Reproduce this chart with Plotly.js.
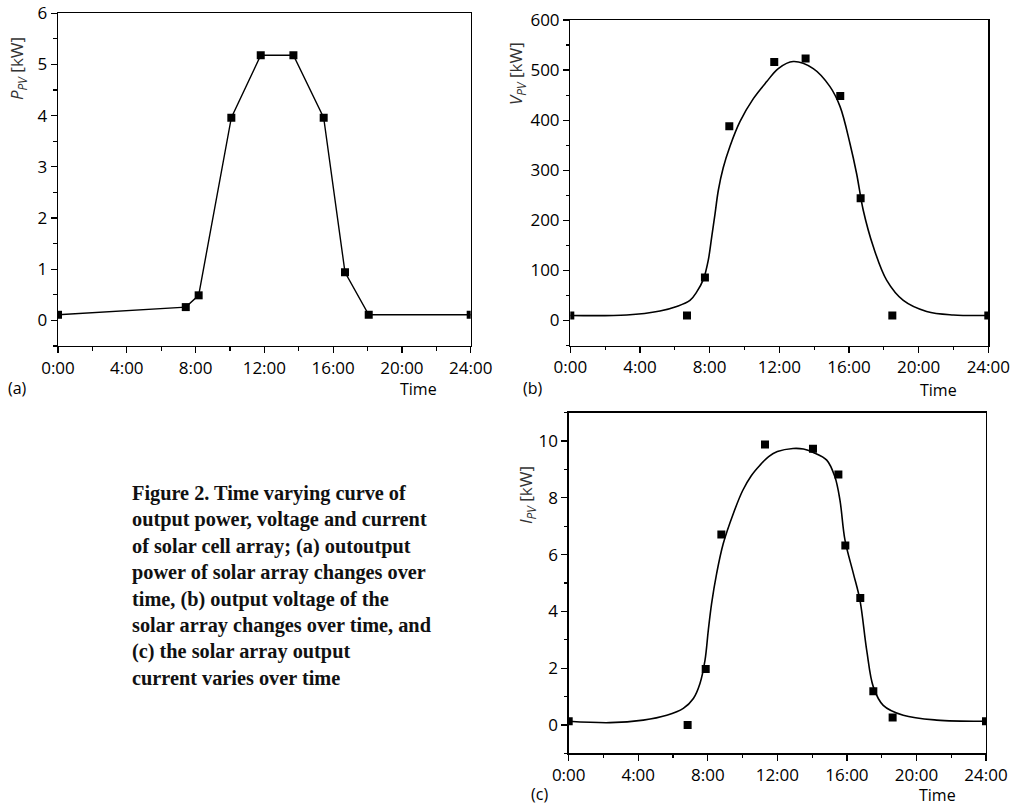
<!DOCTYPE html>
<html>
<head>
<meta charset="utf-8">
<script src="https://cdn.plot.ly/plotly-3.0.1.min.js"></script>
<style>html,body{margin:0;padding:0;background:#fff;}#chart{width:1019px;height:805px;}</style>
</head>
<body>
<div id="chart"></div>
<script>
// ---- data (hours of day) ----
const timeTickVals = [0, 4, 8, 12, 16, 20, 24];
const timeTickText = ["0:00", "4:00", "8:00", "12:00", "16:00", "20:00", "24:00"];

// (a) output power
const powerHours = [0, 7.43, 8.18, 10.08, 11.79, 13.69, 15.45, 16.69, 18.07, 24];
const powerKW    = [0.11, 0.26, 0.49, 3.96, 5.18, 5.18, 3.96, 0.94, 0.11, 0.11];

// (b) output voltage: measured points
const voltHours = [0, 6.70, 7.73, 9.13, 11.71, 13.51, 15.50, 16.67, 18.49, 24];
const voltVals  = [10, 10, 86, 388, 516, 523, 448, 244, 10, 10];
// (b) fitted curve
const voltFitHours = [0, 3.24, 5.15, 6.11, 6.87, 7.26, 7.64, 7.92, 8.12, 8.31, 8.50, 8.78, 9.17, 9.74, 10.51, 11.28, 11.94, 12.80, 13.95, 14.91, 15.49, 16.06, 16.44, 16.82, 17.40, 18.17, 19.12, 20.46, 21.99, 24];
const voltFitVals  = [10, 11, 19, 28, 40, 57, 82, 120, 167, 213, 260, 305, 348, 397, 443, 477, 503, 517, 503, 467, 427, 353, 293, 220, 147, 80, 40, 18, 11, 10];

// (c) output current: measured points
const currHours = [0, 6.84, 7.88, 8.78, 11.29, 14.05, 15.51, 15.91, 16.77, 17.52, 18.63, 24];
const currVals  = [0.13, 0.0, 1.97, 6.71, 9.88, 9.73, 8.82, 6.32, 4.47, 1.19, 0.26, 0.13];
// (c) fitted curve
const currFitHours = [0, 2.37, 4.29, 5.64, 6.59, 7.17, 7.55, 7.84, 8.03, 8.22, 8.51, 8.89, 9.47, 10.0, 10.5, 11.0, 11.5, 12.0, 12.9, 13.5, 14.07, 14.84, 15.31, 15.60, 15.89, 16.37, 16.75, 17.14, 17.52, 18.09, 19.24, 21.16, 24];
const currFitVals  = [0.13, 0.08, 0.17, 0.34, 0.58, 0.93, 1.46, 2.28, 3.34, 4.28, 5.34, 6.39, 7.45, 8.25, 8.78, 9.15, 9.45, 9.63, 9.74, 9.72, 9.60, 9.33, 8.74, 7.92, 6.51, 5.34, 4.40, 2.63, 1.34, 0.69, 0.34, 0.17, 0.13];

// ---- styling ----
const W = 1019, H = 805;
const px = x => x / W;
const py = y => (H - y) / H;
const tickFont = {family: "Open Sans, sans-serif", size: 17, color: "#000"};
const marker = {symbol: "square", size: 8, color: "#000"};

function xAxis(domain, anchor) {
  return {
    domain: domain, anchor: anchor, range: [0, 24],
    tickmode: "array", tickvals: timeTickVals, ticktext: timeTickText,
    ticks: "outside", ticklen: 6, tickwidth: 1.2, tickcolor: "#000",
    minor: {tickmode: "linear", tick0: 0, dtick: 2, ticks: "outside", ticklen: 3.5, tickwidth: 1.2, tickcolor: "#000", showgrid: false},
    showline: true, mirror: true, linecolor: "#000", linewidth: 1.3,
    showgrid: false, zeroline: false, tickfont: tickFont, fixedrange: true
  };
}
function yAxis(domain, anchor, range, dtick, minor) {
  return {
    domain: domain, anchor: anchor, range: range,
    tickmode: "linear", tick0: 0, dtick: dtick,
    ticks: "outside", ticklen: 6, tickwidth: 1.2, tickcolor: "#000",
    minor: {tickmode: "linear", tick0: 0, dtick: minor, ticks: "outside", ticklen: 3.5, tickwidth: 1.2, tickcolor: "#000", showgrid: false},
    showline: true, mirror: true, linecolor: "#000", linewidth: 1.3,
    showgrid: false, zeroline: false, tickfont: tickFont, fixedrange: true
  };
}

const traces = [
  {x: powerHours, y: powerKW, xaxis: "x", yaxis: "y", mode: "lines+markers",
   line: {color: "#000", width: 1.4}, marker: marker},
  {x: voltFitHours, y: voltFitVals, xaxis: "x2", yaxis: "y2", mode: "lines",
   line: {color: "#000", width: 1.6, shape: "spline", smoothing: 1.0}},
  {x: voltHours, y: voltVals, xaxis: "x2", yaxis: "y2", mode: "markers", marker: marker},
  {x: currFitHours, y: currFitVals, xaxis: "x3", yaxis: "y3", mode: "lines",
   line: {color: "#000", width: 1.6, shape: "spline", smoothing: 1.0}},
  {x: currHours, y: currVals, xaxis: "x3", yaxis: "y3", mode: "markers", marker: marker}
];

const labFont = {family: "Open Sans, sans-serif", size: 16, color: "#000"};
const yTitleFont = {family: "Open Sans, sans-serif", size: 17, color: "#333"};
function ann(x, y, text, font, extra) {
  return Object.assign({xref: "paper", yref: "paper", x: px(x), y: py(y), text: text,
    showarrow: false, font: font, xanchor: "center", yanchor: "middle"}, extra || {});
}

const caption = "Figure 2. Time varying curve of<br>output power, voltage and current<br>of solar cell array; (a) outoutput<br>power of solar array changes over<br>time, (b) output voltage of the<br>solar array changes over time, and<br>(c) the solar array output<br>current varies over time";

const layout = {
  width: W, height: H, showlegend: false,
  margin: {l: 0, r: 0, t: 0, b: 0},
  paper_bgcolor: "#fff", plot_bgcolor: "#fff",
  xaxis: xAxis([px(58), px(470.7)], "y"),
  yaxis: yAxis([py(346), py(13.3)], "x", [-0.5, 6], 1, 0.5),
  xaxis2: xAxis([px(570.3), px(988.3)], "y2"),
  yaxis2: yAxis([py(345.5), py(20)], "x2", [-50, 600], 100, 50),
  xaxis3: xAxis([px(568.7), px(986)], "y3"),
  yaxis3: yAxis([py(753.3), py(412.7)], "x3", [-1, 11], 2, 1),
  annotations: [
    ann(17, 69, "<i>P</i><sub><i>PV</i></sub> [kW]", yTitleFont, {textangle: -90}),
    ann(516, 74, "<i>V</i><sub><i>PV</i></sub> [kW]", yTitleFont, {textangle: -90}),
    ann(527, 495, "<i>I</i><sub><i>PV</i></sub> [kW]", yTitleFont, {textangle: -90}),
    ann(418, 389, "Time", labFont),
    ann(938, 390, "Time", labFont),
    ann(937, 795, "Time", labFont),
    ann(17, 388, "(a)", labFont),
    ann(533, 388, "(b)", labFont),
    ann(539, 794, "(c)", labFont),
    {xref: "paper", yref: "paper", x: px(130), y: py(480), xanchor: "left", yanchor: "top",
     align: "left", showarrow: false, text: "<b>" + caption.split("<br>").join("</b><br><b>") + "</b>",
     font: {family: "Liberation Serif, Times New Roman, serif", size: 20.3, color: "#111"}}
  ]
};

Plotly.newPlot("chart", traces, layout, {displayModeBar: false, staticPlot: true});
</script>
</body>
</html>
